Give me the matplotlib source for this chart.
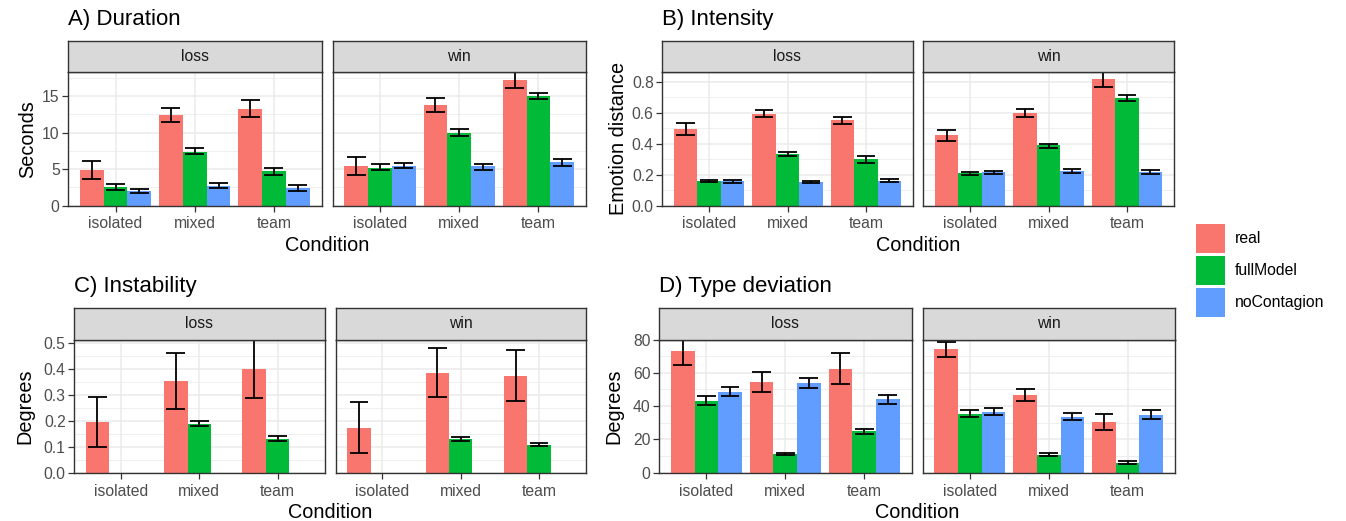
import matplotlib
matplotlib.use("Agg")
import matplotlib.pyplot as plt
import numpy as np
from matplotlib.patches import Rectangle

plt.rcParams['font.family'] = ['Liberation Sans', 'DejaVu Sans']

W, H = 1346, 521
conditions = ["isolated", "mixed", "team"]
outcomes = ["loss", "win"]
series = ["real", "fullModel", "noContagion"]
colors = {"real": "#F8766D", "fullModel": "#00BA38", "noContagion": "#619CFF"}
nan = np.nan

# ---- A) Duration (seconds); each list: [loss iso, mixed, team], [win iso, mixed, team]
dur_mean = {"real": [[4.9, 12.4, 13.2], [5.45, 13.8, 17.15]],
            "fullModel": [[2.5, 7.4, 4.7], [5.15, 10.0, 15.0]],
            "noContagion": [[1.95, 2.7, 2.45], [5.45, 5.35, 5.9]]}
dur_low = {"real": [[3.7, 11.45, 12.1], [4.2, 12.8, 16.05]],
           "fullModel": [[2.1, 7.05, 4.15], [4.8, 9.55, 14.65]],
           "noContagion": [[1.65, 2.35, 2.05], [5.1, 4.9, 5.45]]}
dur_high = {"real": [[6.05, 13.35, 14.45], [6.7, 14.7, 18.3]],
            "fullModel": [[2.95, 7.95, 5.2], [5.65, 10.55, 15.45]],
            "noContagion": [[2.3, 3.1, 2.8], [5.85, 5.75, 6.4]]}

# ---- B) Intensity (emotion distance)
int_mean = {"real": [[0.495, 0.594, 0.555], [0.458, 0.598, 0.817]],
            "fullModel": [[0.161, 0.335, 0.301], [0.209, 0.389, 0.695]],
            "noContagion": [[0.157, 0.153, 0.159], [0.215, 0.224, 0.217]]}
int_low = {"real": [[0.454, 0.574, 0.529], [0.421, 0.576, 0.770]],
           "fullModel": [[0.151, 0.320, 0.277], [0.198, 0.372, 0.675]],
           "noContagion": [[0.148, 0.144, 0.151], [0.206, 0.213, 0.206]]}
int_high = {"real": [[0.533, 0.622, 0.576], [0.492, 0.628, 0.865]],
            "fullModel": [[0.168, 0.348, 0.323], [0.219, 0.400, 0.716]],
            "noContagion": [[0.166, 0.161, 0.170], [0.226, 0.234, 0.228]]}

# ---- C) Instability (degrees)
ins_mean = {"real": [[0.195, 0.353, 0.400], [0.174, 0.384, 0.372]],
            "fullModel": [[nan, 0.189, 0.131], [nan, 0.130, 0.108]],
            "noContagion": [[nan, nan, nan], [nan, nan, nan]]}
ins_low = {"real": [[0.100, 0.247, 0.286], [0.077, 0.290, 0.277]],
           "fullModel": [[nan, 0.180, 0.124], [nan, 0.122, 0.103]],
           "noContagion": [[nan, nan, nan], [nan, nan, nan]]}
ins_high = {"real": [[0.290, 0.460, 0.513], [0.271, 0.479, 0.472]],
            "fullModel": [[nan, 0.198, 0.140], [nan, 0.139, 0.115]],
            "noContagion": [[nan, nan, nan], [nan, nan, nan]]}

# ---- D) Type deviation (degrees)
typ_mean = {"real": [[72.8, 54.4, 62.5], [74.2, 46.6, 30.4]],
            "fullModel": [[43.3, 11.3, 24.8], [35.3, 10.9, 6.0]],
            "noContagion": [[48.6, 53.6, 44.0], [36.5, 33.7, 34.9]]}
typ_low = {"real": [[64.7, 48.4, 53.0], [69.4, 43.1, 25.6]],
           "fullModel": [[40.9, 10.5, 23.4], [33.5, 9.9, 5.2]],
           "noContagion": [[45.8, 50.6, 41.1], [34.7, 31.5, 32.3]]}
typ_high = {"real": [[80.0, 60.7, 72.0], [78.6, 50.0, 35.5]],
            "fullModel": [[46.0, 11.9, 26.2], [37.5, 11.7, 6.9]],
            "noContagion": [[51.6, 56.7, 46.8], [38.9, 35.9, 37.5]]}

fig = plt.figure(figsize=(W / 100, H / 100), dpi=100)

def rect(x0, y0, x1, y1):
    return [x0 / W, 1 - y1 / H, (x1 - x0) / W, (y1 - y0) / H]

TICK_FS = 11.3
GRID = "#EBEBEB"
BORDER = "#333333"
ERR_LW = 1.3

def draw_panel(box, strip_y, label, means, lows, highs, k, yticks, show_y):
    x0, y0, x1, y1 = box
    ax = fig.add_axes(rect(x0, y0, x1, y1))
    xs = np.arange(1, len(conditions) + 1)
    offs = [-0.3, 0.0, 0.3]
    for s, off in zip(series, offs):
        m = np.array(means[s][k], dtype=float)
        lo = np.array(lows[s][k], dtype=float)
        hi = np.array(highs[s][k], dtype=float)
        ok = ~np.isnan(m)
        ax.bar(xs[ok] + off, m[ok], width=0.3, color=colors[s], edgecolor='none', zorder=2)
        ax.vlines(xs[ok] + off, lo[ok], hi[ok], color='black', lw=ERR_LW, zorder=3)
        ax.hlines(lo[ok], xs[ok] + off - 0.12, xs[ok] + off + 0.12, color='black', lw=ERR_LW, zorder=3)
        ax.hlines(hi[ok], xs[ok] + off - 0.12, xs[ok] + off + 0.12, color='black', lw=ERR_LW, zorder=3)
    ytop = np.nanmax([np.nanmax(highs[s]) for s in series])
    ax.set_ylim(0, ytop)
    ax.set_xlim(0.4, len(conditions) + 0.6)
    ax.set_yticks(yticks)
    step = yticks[1] - yticks[0]
    minors = np.arange(yticks[0] + step / 2, ytop, step)
    ax.set_yticks(minors, minor=True)
    ax.set_xticks(xs)
    ax.set_xticklabels(conditions)
    ax.grid(True, which='major', color=GRID, lw=1.1, zorder=0)
    ax.grid(True, which='minor', axis='y', color=GRID, lw=0.55, zorder=0)
    ax.set_axisbelow(True)
    ax.tick_params(axis='both', which='major', length=4, width=0.9, color=BORDER,
                   labelsize=TICK_FS, labelcolor='#4D4D4D', pad=2)
    ax.tick_params(axis='x', which='major', pad=3.8)
    ax.tick_params(axis='y', which='minor', length=0)
    if not show_y:
        ax.tick_params(axis='y', which='major', length=0, labelleft=False)
    else:
        if step < 1:
            ax.set_yticklabels([f"{t:.1f}" for t in yticks])
        else:
            ax.set_yticklabels([f"{int(t)}" for t in yticks])
    for sp in ax.spines.values():
        sp.set_color(BORDER)
        sp.set_linewidth(1.0)
    # strip
    sax = fig.add_axes(rect(x0, strip_y, x1, y0))
    sax.set_facecolor('#D9D9D9')
    sax.set_xticks([]); sax.set_yticks([])
    for sp in sax.spines.values():
        sp.set_color(BORDER)
        sp.set_linewidth(1.0)
    sax.text(0.5, 0.5, label, ha='center', va='center', fontsize=TICK_FS,
             color='#1A1A1A', transform=sax.transAxes)
    return ax

def draw_chart(title, ylabel, means, lows, highs, yticks, xl, xr, gap, ytop_px, strip_px, ybot_px, ylab_x):
    pw = (xr - xl - gap) / 2
    for k, oc in enumerate(outcomes):
        bx0 = xl + k * (pw + gap)
        draw_panel((bx0, ytop_px, bx0 + pw, ybot_px), strip_px, oc, means, lows, highs,
                   k, yticks, show_y=(k == 0))
    fig.text(xl / W, 1 - (strip_px - 21) / H, title, ha='left', va='center', fontsize=16)
    fig.text(ylab_x / W, 1 - ((ytop_px + ybot_px) / 2) / H, ylabel, rotation=90,
             ha='center', va='center', fontsize=14.3)
    fig.text(((xl + xr) / 2) / W, 1 - (ybot_px + 40) / H, "Condition",
             ha='center', va='center', fontsize=14.3)

draw_chart("A) Duration", "Seconds", dur_mean, dur_low, dur_high, [0, 5, 10, 15],
           68, 586, 11, 72, 40.5, 205.5, 28)
draw_chart("B) Intensity", "Emotion distance", int_mean, int_low, int_high,
           [0.0, 0.2, 0.4, 0.6, 0.8], 662, 1174, 10, 72, 40.5, 205.5, 618)
draw_chart("C) Instability", "Degrees", ins_mean, ins_low, ins_high,
           [0.0, 0.1, 0.2, 0.3, 0.4, 0.5], 74, 586, 11, 339.5, 307.7, 472.7, 25)
draw_chart("D) Type deviation", "Degrees", typ_mean, typ_low, typ_high,
           [0, 20, 40, 60, 80], 659, 1175, 11, 339.5, 307.7, 472.7, 614)

# legend
for i, s in enumerate(series):
    ky = 224 + i * 32
    fig.patches.append(Rectangle((1196 / W, 1 - (ky + 29) / H), 29 / W, 29 / H,
                                 transform=fig.transFigure, facecolor=colors[s],
                                 edgecolor='none'))
    fig.text(1235 / W, 1 - (ky + 14.5) / H, s, ha='left', va='center', fontsize=11.3,
             color='black')

fig.savefig("out.png", dpi=100)
